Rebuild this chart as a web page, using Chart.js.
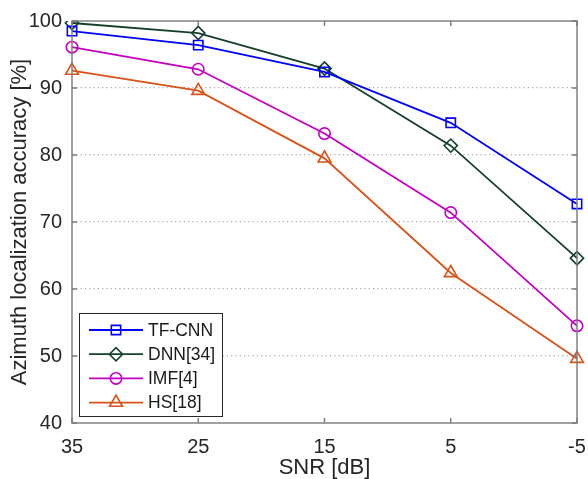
<!DOCTYPE html>
<html>
<head>
<meta charset="utf-8">
<script src="https://cdn.jsdelivr.net/npm/chart.js@4.4.1/dist/chart.umd.min.js"></script>
<style>
  html, body { margin: 0; padding: 0; background: #fff; }
  #wrap { width: 588px; height: 479px; }
</style>
</head>
<body>
<div id="wrap"><canvas id="accChart" width="588" height="479"></canvas></div>
<script>
// SNR values on the x axis (high to low)
const snrLabels = ['35', '25', '15', '5', '-5'];

// accuracy per method [%]
const tfCnn = [98.5, 96.4, 92.4, 84.8, 72.7];
const dnn34 = [99.7, 98.2, 92.9, 81.4, 64.6];
const imf4  = [96.1, 92.8, 83.2, 71.4, 54.5];
const hs18  = [92.6, 89.6, 79.5, 62.4, 49.6];

const yTicks = [40, 50, 60, 70, 80, 90, 100];

const FONT = 'Liberation Sans, Arial, sans-serif';
const AXIS_COLOR = '#7a7a7a';

function series(label, data, color, style, radius) {
    return {
        label: label,
        data: data,
        borderColor: color,
        backgroundColor: 'rgba(0,0,0,0)',
        borderWidth: 1.8,
        pointStyle: style,
        pointRadius: radius,
        pointBorderWidth: 1.6,
        pointBorderColor: color,
        pointBackgroundColor: 'rgba(0,0,0,0)',
        tension: 0
    };
}

// box, inward ticks and the in-plot legend
const boxPlugin = {
    id: 'boxPlugin',
    afterDatasetsDraw(chart) {
        const { ctx, chartArea: a, scales } = chart;
        ctx.save();
        ctx.strokeStyle = AXIS_COLOR;
        ctx.lineWidth = 1.4;
        ctx.strokeRect(a.left, a.top, a.right - a.left, a.bottom - a.top);

        const tl = 5;
        ctx.beginPath();
        scales.x.ticks.forEach((t, i) => {
            const x = scales.x.getPixelForTick(i);
            ctx.moveTo(x, a.bottom); ctx.lineTo(x, a.bottom - tl);
            ctx.moveTo(x, a.top); ctx.lineTo(x, a.top + tl);
        });
        scales.y.ticks.forEach((t, i) => {
            const y = scales.y.getPixelForTick(i);
            ctx.moveTo(a.left, y); ctx.lineTo(a.left + tl, y);
            ctx.moveTo(a.right, y); ctx.lineTo(a.right - tl, y);
        });
        ctx.stroke();

        // legend
        const lx = 79, ly = 313, lw = 143, lh = 103;
        ctx.fillStyle = '#fff';
        ctx.fillRect(lx, ly, lw, lh);
        ctx.strokeStyle = '#262626';
        ctx.lineWidth = 1;
        ctx.strokeRect(lx + 0.5, ly + 0.5, lw, lh);
        ctx.font = '17.5px ' + FONT;
        ctx.textBaseline = 'middle';
        chart.data.datasets.forEach((ds, i) => {
            const y = 330 + i * 24.2;
            ctx.strokeStyle = ds.borderColor;
            ctx.lineWidth = ds.borderWidth;
            ctx.beginPath();
            ctx.moveTo(89, y); ctx.lineTo(143, y);
            ctx.stroke();
            ctx.fillStyle = 'rgba(0,0,0,0)';
            ctx.lineWidth = ds.pointBorderWidth;
            Chart.helpers.drawPoint(ctx, {
                pointStyle: ds.pointStyle,
                radius: ds.pointRadius,
                rotation: 0,
                borderWidth: ds.pointBorderWidth
            }, 116, y);
            ctx.fillStyle = '#1a1a1a';
            ctx.fillText(ds.label, 148, y + 1);
        });
        ctx.restore();
    }
};

const ctxAcc = document.getElementById('accChart').getContext('2d');
new Chart(ctxAcc, {
    type: 'line',
    data: {
        labels: snrLabels,
        datasets: [
            series('TF-CNN', tfCnn, '#0000ff', 'rect', 6.6),
            series('DNN[34]', dnn34, '#14402a', 'rectRot', 6.6),
            series('IMF[4]', imf4, '#c400c4', 'circle', 5.7),
            series('HS[18]', hs18, '#d95319', 'triangle', 7.4)
        ]
    },
    options: {
        responsive: false,
        animation: false,
        layout: { padding: { left: 0, right: 11, top: 21, bottom: 0 } },
        plugins: {
            legend: { display: false },
            tooltip: { enabled: false }
        },
        scales: {
            x: {
                type: 'category',
                offset: false,
                grid: { display: false, drawTicks: false },
                border: { display: false },
                ticks: { color: '#262626', font: { family: FONT, size: 20, lineHeight: 1 }, padding: 14, maxRotation: 0 },
                title: { display: true, text: 'SNR [dB]', color: '#262626', font: { family: FONT, size: 22, lineHeight: 1 }, padding: { top: 0, bottom: 0 } },
                afterFit(scale) {
                    scale.height = 56;
                    scale.paddingLeft = 0;
                    scale.paddingRight = 0;
                }
            },
            y: {
                min: 40,
                max: 100,
                afterBuildTicks(scale) { scale.ticks = yTicks.map(v => ({ value: v })); },
                grid: {
                    drawTicks: false,
                    color: (c) => (c.tick && (c.tick.value === 40 || c.tick.value === 100)) ? 'rgba(0,0,0,0)' : '#a8a8a8',
                    lineWidth: 1.2,
                    tickLength: 0
                },
                border: { display: false, dash: [1.2, 3.1] },
                ticks: { color: '#262626', font: { family: FONT, size: 20, lineHeight: 1 }, padding: 10 },
                title: { display: true, text: 'Azimuth localization accuracy [%]', color: '#262626', font: { family: FONT, size: 22, lineHeight: 1 }, padding: { top: 9, bottom: 0 } },
                afterFit(scale) {
                    scale.width = 72;
                    scale.paddingTop = 0;
                    scale.paddingBottom = 0;
                }
            }
        }
    },
    plugins: [boxPlugin]
});
</script>
</body>
</html>
